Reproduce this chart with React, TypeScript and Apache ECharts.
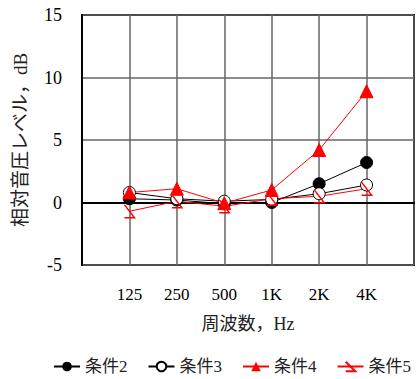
import React, { useEffect, useRef } from "react";
import * as echarts from "echarts";

const categories = ["", "125", "250", "500", "1K", "2K", "4K", ""];
const seriesNames = ["条件2", "条件3", "条件4", "条件5"];
const cond2 = [0.3, 0.2, -0.1, 0.0, 1.5, 3.2];
const cond3 = [0.8, 0.3, 0.1, 0.25, 0.7, 1.4];
const cond4 = [0.8, 1.1, -0.05, 1.0, 4.2, 8.9];
const cond5 = [-0.7, 0.1, -0.3, 0.3, 0.5, 1.1];
const yTicks = [-5, 0, 5, 10, 15];

const FONT = "'Liberation Serif', 'Times New Roman', 'Noto Sans CJK JP', serif";

const toPairs = (vals: number[]) => vals.map((v, i) => [i + 1, v]);

export default function App() {
  const ref = useRef<HTMLDivElement>(null);
  useEffect(() => {
    if (!ref.current) return;
    const chart = echarts.init(ref.current, undefined, { renderer: "svg" });
    const base = {
      type: "line",
      showSymbol: true,
      symbolSize: 12,
      lineStyle: { width: 1 },
    };
    chart.setOption({
      animation: false,
      backgroundColor: "#fff",
      grid: {
        left: 82,
        right: 1,
        top: 15,
        bottom: 114,
        show: true,
        borderColor: "#000",
        borderWidth: 2,
      },
      legend: {
        bottom: 4,
        left: 53,
        width: 410,
        padding: 0,
        itemWidth: 26,
        itemHeight: 12,
        itemGap: 20,
        textStyle: { fontFamily: FONT, fontSize: 17, color: "#222" },
        data: seriesNames,
      },
      xAxis: {
        type: "category",
        data: categories,
        boundaryGap: false,
        axisLine: { show: true, lineStyle: { color: "#000", width: 2 } },
        axisTick: { show: false },
        axisLabel: {
          margin: 21,
          fontFamily: FONT,
          fontSize: 17,
          color: "#000",
          interval: 0,
        },
        splitLine: { show: true, lineStyle: { color: "#666", width: 1.5 } },
        name: "周波数，Hz",
        nameLocation: "middle",
        nameGap: 50,
        nameTextStyle: { fontFamily: FONT, fontSize: 18, color: "#222" },
      },
      yAxis: {
        type: "value",
        min: yTicks[0],
        max: yTicks[yTicks.length - 1],
        interval: 5,
        axisLine: { show: true, lineStyle: { color: "#000", width: 2 } },
        axisTick: { show: false },
        axisLabel: {
          margin: 20,
          fontFamily: FONT,
          fontSize: 18,
          color: "#000",
        },
        splitLine: { show: true, lineStyle: { color: "#666", width: 1.5 } },
        name: "相対音圧レベル，dB",
        nameLocation: "middle",
        nameGap: 52,
        nameRotate: 90,
        nameTextStyle: { fontFamily: FONT, fontSize: 19, color: "#222" },
      },
      series: [
        {
          ...base,
          name: seriesNames[0],
          data: toPairs(cond2),
          symbol: "circle",
          itemStyle: { color: "#000", borderColor: "#000" },
          lineStyle: { width: 1, color: "#000" },
        },
        {
          ...base,
          name: seriesNames[1],
          data: toPairs(cond3),
          symbol: "circle",
          itemStyle: { color: "#fff", borderColor: "#000", borderWidth: 1 },
          lineStyle: { width: 1, color: "#000" },
        },
        {
          ...base,
          name: seriesNames[2],
          data: toPairs(cond4),
          symbol: "triangle",
          symbolSize: 13,
          itemStyle: { color: "#ff0000", borderColor: "#ff0000" },
          lineStyle: { width: 1, color: "#ff0000" },
        },
        {
          ...base,
          name: seriesNames[3],
          data: toPairs(cond5),
          symbol: "path://M0,0 L10,12 L0,12",
          symbolSize: [10, 13],
          itemStyle: { color: "none", borderColor: "#ff0000", borderWidth: 1.5 },
          lineStyle: { width: 1, color: "#ff0000" },
        },
      ],
    });
    return () => chart.dispose();
  }, []);
  return (
    <div
      ref={ref}
      style={{ position: "fixed", left: 0, top: 0, width: 417, height: 379 }}
    />
  );
}
